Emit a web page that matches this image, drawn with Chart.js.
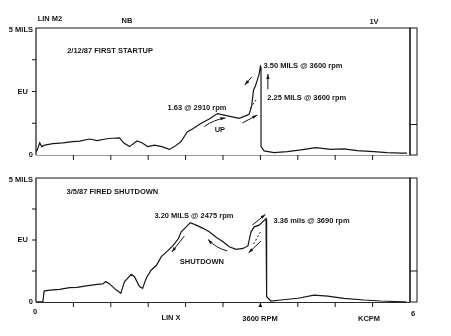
<!DOCTYPE html>
<html>
<head>
<meta charset="utf-8">
<script src="https://cdn.jsdelivr.net/npm/chart.js@4.4.1/dist/chart.umd.min.js"></script>
<style>
    html, body { margin: 0; padding: 0; background: #fff; }
    #wrap { position: relative; width: 451px; height: 336px; }
    #wrap canvas { position: absolute; left: 0; top: 0; }
</style>
</head>
<body>
<div id="wrap">
    <canvas id="startup_chart" width="451" height="336"></canvas>
    <canvas id="shutdown_chart" width="451" height="336"></canvas>
</div>
<script>
'use strict';

// speed in KCPM, amplitude in mils
const startupSpeed = [0, 0.02, 0.06, 0.09, 0.14, 0.27, 0.43, 0.59, 0.70, 0.86, 0.98, 1.14, 1.23, 1.34,
    1.41, 1.50, 1.62, 1.70, 1.79, 1.90, 2.02, 2.14, 2.22, 2.32, 2.43, 2.51, 2.65, 2.78, 2.91, 3.02,
    3.13, 3.26, 3.39, 3.42, 3.46, 3.49, 3.52, 3.55, 3.58, 3.60, 3.61, 3.61, 3.66, 3.82, 4.03, 4.25,
    4.49, 4.73, 4.94, 5.15, 5.42, 5.63, 5.86, 5.95];
const startupMils = [0.13, 0.20, 0.48, 0.33, 0.39, 0.45, 0.48, 0.53, 0.55, 0.63, 0.57, 0.64, 0.66, 0.67,
    0.47, 0.33, 0.55, 0.48, 0.33, 0.39, 0.33, 0.22, 0.33, 0.51, 0.92, 1.02, 1.25, 1.42, 1.63, 1.57,
    1.51, 1.44, 1.57, 1.61, 1.93, 2.56, 2.72, 2.95, 3.19, 3.50, 3.45, 0.33, 0.16, 0.09, 0.13, 0.20,
    0.29, 0.22, 0.24, 0.17, 0.13, 0.09, 0.07, 0.07];

const shutdownSpeed = [0.01, 0.11, 0.13, 0.22, 0.38, 0.54, 0.66, 0.78, 0.98, 1.07, 1.12, 1.18, 1.29, 1.36,
    1.42, 1.53, 1.58, 1.66, 1.71, 1.77, 1.85, 1.93, 2.01, 2.12, 2.20, 2.28, 2.33, 2.41, 2.475, 2.57,
    2.68, 2.78, 2.89, 3.00, 3.10, 3.21, 3.32, 3.40, 3.42, 3.45, 3.50, 3.58, 3.69, 3.70, 3.77, 3.93,
    4.20, 4.46, 4.68, 4.94, 5.26, 5.53, 5.90, 5.95];
const shutdownMils = [0.01, 0.01, 0.44, 0.48, 0.51, 0.58, 0.59, 0.64, 0.71, 0.73, 0.83, 0.73, 0.48, 0.35,
    0.82, 1.12, 1.02, 0.62, 0.55, 0.97, 1.29, 1.47, 1.83, 2.08, 2.28, 2.54, 2.83, 3.03, 3.20, 3.10,
    2.97, 2.83, 2.61, 2.43, 2.23, 2.12, 2.16, 2.26, 2.50, 2.83, 3.03, 3.10, 3.36, 0.21, 0.04, 0.08,
    0.15, 0.28, 0.24, 0.15, 0.08, 0.04, 0.01, 0.0];

const yTicks = [0, 1.25, 2.5, 3.75, 5];
const yTickLabels = ['0', '', 'EU', '', '5 MILS'];
const xTicks = [0.6, 1.2, 1.8, 2.4, 3.0, 3.6, 4.2, 4.8, 5.4];

const INK = '#161616';
const FONT = 'bold 7.5px "Liberation Sans", Arial, sans-serif';

function toPoints(xs, ys) {
    return xs.map((x, i) => ({x: x, y: ys[i]}));
}

function arrowHead(ctx, x1, y1, x2, y2) {
    let a = Math.atan2(y2 - y1, x2 - x1);
    ctx.beginPath();
    ctx.moveTo(x2, y2);
    ctx.lineTo(x2 - 5 * Math.cos(a) + 1.6 * Math.sin(a), y2 - 5 * Math.sin(a) - 1.6 * Math.cos(a));
    ctx.lineTo(x2 - 5 * Math.cos(a) - 1.6 * Math.sin(a), y2 - 5 * Math.sin(a) + 1.6 * Math.cos(a));
    ctx.closePath();
    ctx.fill();
}

// annotation arrows/text are given in chart units (KCPM, mils)
function drawNotes(chart, notes) {
    const ctx = chart.ctx;
    const sx = chart.scales.x, sy = chart.scales.y;
    const px = v => sx.getPixelForValue(v);
    const py = v => sy.getPixelForValue(v);
    ctx.save();
    ctx.fillStyle = INK;
    ctx.strokeStyle = INK;
    ctx.font = FONT;
    ctx.textBaseline = 'middle';
    notes.forEach(n => {
        if (n.text) {
            ctx.textAlign = n.align || 'left';
            ctx.fillText(n.text, px(n.at[0]), py(n.at[1]));
            return;
        }
        let x1 = px(n.from[0]), y1 = py(n.from[1]);
        let x2 = px(n.to[0]), y2 = py(n.to[1]);
        ctx.lineWidth = 1;
        ctx.setLineDash(n.dashed ? [2, 2] : []);
        ctx.beginPath();
        ctx.moveTo(x1, y1);
        if (n.bend) {
            let mx = (x1 + x2) / 2 - (y2 - y1) * n.bend;
            let my = (y1 + y2) / 2 + (x2 - x1) * n.bend;
            ctx.quadraticCurveTo(mx, my, x2, y2);
            ctx.stroke();
            ctx.setLineDash([]);
            arrowHead(ctx, mx, my, x2, y2);
        } else {
            ctx.lineTo(x2, y2);
            ctx.stroke();
            ctx.setLineDash([]);
            if (!n.dashed) arrowHead(ctx, x1, y1, x2, y2);
        }
    });
    ctx.restore();
}

function drawFrame(chart, opts) {
    const ctx = chart.ctx;
    const area = chart.chartArea;
    const sx = chart.scales.x, sy = chart.scales.y;
    ctx.save();
    ctx.strokeStyle = INK;
    ctx.fillStyle = INK;
    ctx.lineWidth = 1.2;

    // left axis, top and right border
    ctx.beginPath();
    ctx.moveTo(area.left, area.bottom);
    ctx.lineTo(area.left, area.top);
    ctx.lineTo(area.right, area.top);
    ctx.lineTo(area.right, area.bottom);
    ctx.stroke();

    // bottom edge
    ctx.strokeStyle = opts.bottomColor;
    ctx.lineWidth = 1;
    ctx.beginPath();
    ctx.moveTo(area.left, area.bottom + 0.5);
    ctx.lineTo(area.right, area.bottom + 0.5);
    ctx.stroke();

    // narrow strip on the right
    ctx.strokeStyle = INK;
    ctx.lineWidth = 1;
    let stripY = sy.getPixelForValue(opts.stripLevel);
    ctx.strokeRect(area.right, area.top, 7, area.bottom - area.top);
    ctx.beginPath();
    ctx.moveTo(area.right, stripY);
    ctx.lineTo(area.right + 7, stripY);
    ctx.stroke();

    // y ticks and labels
    ctx.font = FONT;
    ctx.textAlign = 'right';
    ctx.textBaseline = 'middle';
    yTicks.forEach((v, i) => {
        let y = sy.getPixelForValue(v);
        if (v > 0 && v < 5) {
            ctx.beginPath();
            ctx.moveTo(area.left - 4, y);
            ctx.lineTo(area.left, y);
            ctx.stroke();
        }
        let label = yTickLabels[i];
        if (label) {
            ctx.fillText(label, area.left - (label === 'EU' ? 8 : 3), y + (v === 5 ? 2 : 0));
        }
    });

    // x ticks below the panel
    xTicks.forEach(v => {
        let x = sx.getPixelForValue(v);
        ctx.beginPath();
        ctx.moveTo(x, area.bottom);
        ctx.lineTo(x, area.bottom + 5);
        ctx.stroke();
        if (opts.rpmMark && v === 3.6) {
            ctx.beginPath();
            ctx.moveTo(x, area.bottom + 1);
            ctx.lineTo(x - 2, area.bottom + 5);
            ctx.lineTo(x + 2, area.bottom + 5);
            ctx.closePath();
            ctx.fill();
        }
    });

    // header / footer captions
    opts.captions.forEach(c => {
        ctx.textAlign = 'center';
        ctx.fillText(c[0], c[1], c[2]);
    });
    ctx.restore();
}

function makePanel(canvasId, speeds, mils, padding, frameOpts, notes) {
    let ctx = document.getElementById(canvasId).getContext('2d');
    return new Chart(ctx, {
        type: 'scatter',
        data: {
            datasets: [{
                data: toPoints(speeds, mils),
                showLine: true,
                borderColor: INK,
                borderWidth: 1.2,
                pointRadius: 0,
                tension: 0,
                fill: false,
            }],
        },
        options: {
            responsive: false,
            animation: false,
            layout: {padding: padding},
            plugins: {
                legend: {display: false},
                tooltip: {enabled: false},
            },
            scales: {
                x: {type: 'linear', min: 0, max: 6, display: false},
                y: {type: 'linear', min: 0, max: 5, display: false},
            },
        },
        plugins: [{
            id: 'panelDecor',
            afterDraw: function (chart) {
                drawFrame(chart, frameOpts);
                drawNotes(chart, notes);
            },
        }],
    });
}

const startupNotes = [
    {text: '2/12/87 FIRST STARTUP', at: [0.50, 4.11]},
    {text: '1.63 @ 2910 rpm', at: [2.11, 1.86]},
    {text: 'UP', at: [2.95, 0.98], align: 'center'},
    {from: [2.70, 1.12], to: [3.04, 1.46], bend: -0.12},
    {from: [3.31, 1.26], to: [3.55, 1.57]},
    {from: [3.44, 1.85], to: [3.53, 2.17], dashed: true},
    {from: [3.46, 3.07], to: [3.35, 2.76]},
    {text: '3.50 MILS @ 3600 rpm', at: [3.65, 3.52]},
    {from: [3.72, 2.59], to: [3.72, 3.19]},
    {text: '2.25 MILS @ 3600 rpm', at: [3.71, 2.23]},
];

const shutdownNotes = [
    {text: '3/5/87 FIRED SHUTDOWN', at: [0.49, 4.42]},
    {text: '3.20 MILS @ 2475 rpm', at: [1.90, 3.48]},
    {text: 'SHUTDOWN', at: [2.66, 1.63], align: 'center'},
    {from: [2.38, 2.66], to: [2.18, 2.02]},
    {from: [3.07, 2.06], to: [2.76, 2.52], bend: -0.15},
    {from: [3.47, 3.10], to: [3.68, 3.53]},
    {from: [3.49, 2.34], to: [3.60, 2.82], dashed: true},
    {from: [3.61, 2.46], to: [3.41, 1.98]},
    {text: '3.36 mils @ 3690 rpm', at: [3.81, 3.27]},
];

makePanel('startup_chart', startupSpeed, startupMils,
    {left: 36, top: 28, right: 41, bottom: 181},
    {
        bottomColor: '#9a9a9a',
        stripLevel: 1.2,
        rpmMark: false,
        captions: [['LIN M2', 50, 19], ['NB', 127, 21], ['1V', 374, 22]],
    },
    startupNotes);

makePanel('shutdown_chart', shutdownSpeed, shutdownMils,
    {left: 36, top: 178, right: 41, bottom: 34},
    {
        bottomColor: '#2a2a2a',
        stripLevel: 1.25,
        rpmMark: true,
        captions: [['0', 35, 312], ['LIN X', 171, 318], ['3600 RPM', 260, 319],
            ['KCPM', 369, 319], ['6', 413, 314]],
    },
    shutdownNotes);
</script>
</body>
</html>
